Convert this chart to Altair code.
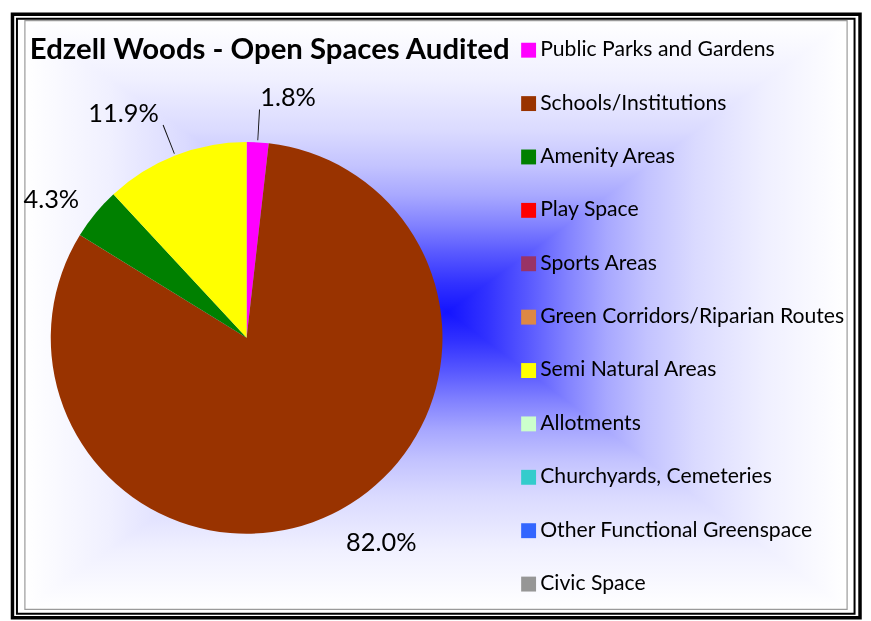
import math
import altair as alt
import pandas as pd

# ---------------- data ----------------
categories = [
    "Public Parks and Gardens",
    "Schools/Institutions",
    "Amenity Areas",
    "Play Space",
    "Sports Areas",
    "Green Corridors/Riparian Routes",
    "Semi Natural Areas",
    "Allotments",
    "Churchyards, Cemeteries",
    "Other Functional Greenspace",
    "Civic Space",
]
percent = [1.8, 82.0, 4.3, 0.0, 0.0, 0.0, 11.9, 0.0, 0.0, 0.0, 0.0]
colors = [
    "#FF00FF", "#993300", "#008000", "#FF0000", "#993366", "#DD8844",
    "#FFFF00", "#CCFFCC", "#33CCCC", "#3366FF", "#969696",
]
leader_categories = ["Public Parks and Gardens", "Semi Natural Areas"]
title_text = "Edzell Woods - Open Spaces Audited"

df = pd.DataFrame({"category": categories, "value": percent,
                   "idx": list(range(len(categories)))})
one = pd.DataFrame({"k": [0]})

# ---------------- layout / style ----------------
FONT = "Lato"
W, H = 860, 614
CX, CY, R = 240, 330, 197          # pie centre / radius (canvas px)
BOX = (17, 11, 844, 603)           # plot-area frame
GCX, GCY = 442, 304                # gradient centre

profile = [(0, 20), (0.1, 50), (0.2, 88), (0.3, 130), (0.4, 168),
           (0.5, 195), (0.62, 218), (0.8, 240), (1.0, 255)]


def grad_stops(c):
    st = []
    for d, g in reversed(profile):
        st.append(alt.GradientStop(offset=round(c * (1 - d), 4), color="#%02x%02xff" % (g, g)))
    for d, g in profile[1:]:
        st.append(alt.GradientStop(offset=round(c + d * (1 - c), 4), color="#%02x%02xff" % (g, g)))
    return st


cxh = (GCX - BOX[0]) / (BOX[2] - BOX[0])
cyv = (GCY - BOX[1]) / (BOX[3] - BOX[1])
grad_h = alt.LinearGradient(gradient="linear", stops=grad_stops(cxh), x1=0, x2=1, y1=0, y2=0)
grad_v = alt.LinearGradient(gradient="linear", stops=grad_stops(cyv), x1=0, x2=0, y1=0, y2=1)

box_enc = dict(x=alt.value(BOX[0]), x2=alt.value(BOX[2]), y=alt.value(BOX[1]), y2=alt.value(BOX[3]))

bg_h = alt.Chart(one).mark_rect(fill=grad_h, strokeWidth=0).encode(**box_enc)
bg_v = alt.Chart(one).mark_rect(fill=grad_v, strokeWidth=0, blend="lighten").encode(**box_enc)
frame_gray = alt.Chart(one).mark_rect(filled=False, stroke="#9a9a9a", strokeWidth=1.2).encode(**box_enc)
frame_thin = alt.Chart(one).mark_rect(filled=False, stroke="black", strokeWidth=2).encode(
    x=alt.value(9), x2=alt.value(851.5), y=alt.value(9), y2=alt.value(607.5))
frame_thick = alt.Chart(one).mark_rect(filled=False, stroke="black", strokeWidth=3.5).encode(
    x=alt.value(4.5), x2=alt.value(857), y=alt.value(4.5), y2=alt.value(611.5))

theta_scale = alt.Scale(domain=[0, 100], range=[0, 2 * math.pi])
color_scale = alt.Scale(domain=categories, range=colors)
centre = dict(x=alt.value(CX), y=alt.value(CY))

leader_list = ", ".join("'%s'" % c for c in leader_categories)
base = (
    alt.Chart(df)
    .transform_window(end="sum(value)", sort=[alt.SortField("idx")], frame=[None, 0])
    .transform_calculate(start="datum.end - datum.value",
                         mid="datum.end - datum.value / 2",
                         label="format(datum.value, '.1f') + '%'",
                         lead="indexof([%s], datum.category) >= 0" % leader_list)
)

arcs = base.mark_arc(radius=R, strokeWidth=0).encode(
    theta=alt.Theta("start:Q", scale=theta_scale, stack=None),
    theta2="end:Q",
    color=alt.Color(
        "category:N", scale=color_scale,
        legend=alt.Legend(
            title=None, orient="none", legendX=513, legendY=30,
            symbolType="square", symbolSize=225, symbolStrokeWidth=0,
            labelFont=FONT, labelFontSize=21.3, labelColor="black",
            labelOffset=1, rowPadding=31.7, padding=0, labelLimit=400,
            symbolOffset=0,
        ),
    ),
    **centre,
)

leaders = (
    base.transform_filter("datum.lead")
    .transform_calculate(la="datum.mid - 0.035", lb="datum.mid + 0.035")
    .mark_arc(radius=230, radius2=199, color="#111111")
    .encode(theta=alt.Theta("la:Q", scale=theta_scale, stack=None), theta2="lb:Q", **centre)
)

lab_kw = dict(baseline="middle", font=FONT, fontSize=25.5, color="black")


def label_layer(cond, align, radius):
    return (
        base.transform_filter("datum.value > 0 && " + cond)
        .mark_text(align=align, radius=radius, **lab_kw)
        .encode(theta=alt.Theta("mid:Q", scale=theta_scale, stack=None),
                text="label:N", **centre)
    )


labels = [
    label_layer("!datum.lead && datum.mid < 50", "left", 229),
    label_layer("!datum.lead && datum.mid >= 50", "right", 218),
    label_layer("datum.lead && datum.mid < 50", "left", 242),
    label_layer("datum.lead && datum.mid >= 50", "right", 242),
]

chart = (
    alt.layer(bg_h, bg_v, frame_gray, frame_thin, frame_thick,
              arcs, leaders, *labels)
    .properties(
        width=W, height=H, padding=0,
        autosize=alt.AutoSizeParams(type="none"),
        background="white",
        title=alt.TitleParams(
            title_text, anchor="start", frame="group", font=FONT, fontSize=29.5,
            fontWeight="bold", color="black", dx=22, dy=79.5, offset=0,
            baseline="alphabetic",
        ),
    )
    .configure_view(stroke=None)
)

chart.save("out.html", embed_options={"renderer": "svg", "actions": False})
